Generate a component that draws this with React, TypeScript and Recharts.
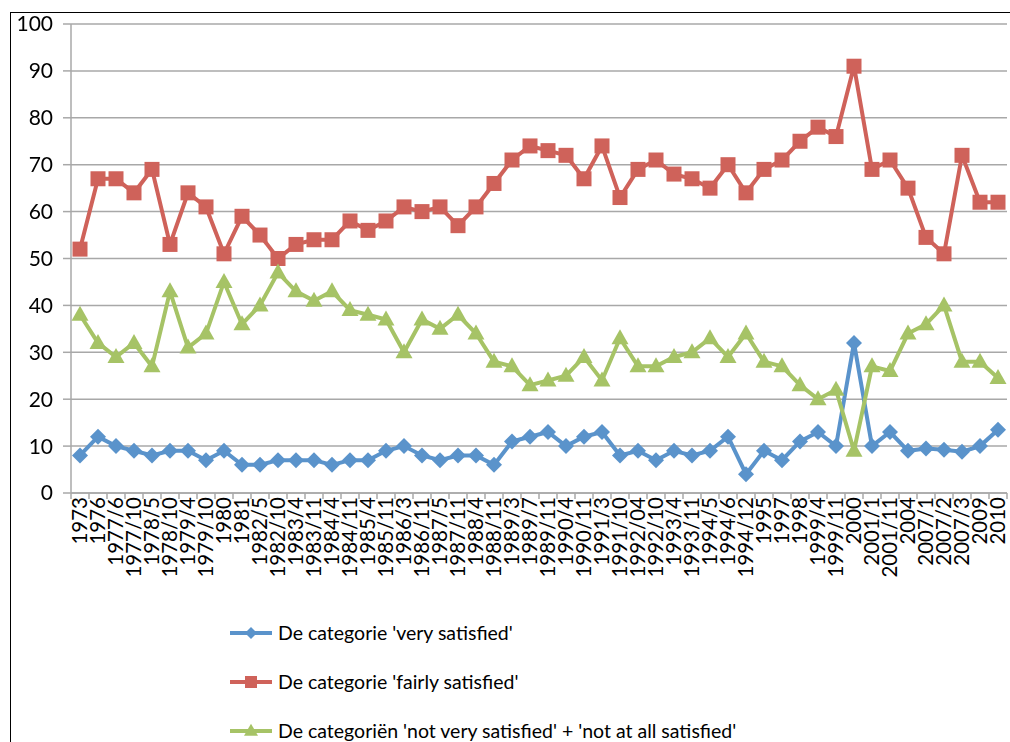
import React from 'react';
import { LineChart, Line, XAxis, YAxis, CartesianGrid } from 'recharts';

const categories = [
  '1973', '1976', '1977/6', '1977/10', '1978/5', '1978/10', '1979/4', '1979/10', '1980', '1981',
  '1982/5', '1982/10', '1983/4', '1983/11', '1984/4', '1984/11', '1985/4', '1985/11', '1986/3', '1986/11',
  '1987/5', '1987/11', '1988/4', '1988/11', '1989/3', '1989/7', '1989/11', '1990/4', '1990/11', '1991/3',
  '1991/10', '1992/04', '1992/10', '1993/4', '1993/11', '1994/5', '1994/6', '1994/12', '1995', '1997',
  '1998', '1999/4', '1999/11', '2000', '2001/1', '2001/11', '2004', '2007/1', '2007/2', '2007/3',
  '2009', '2010',
];

const verySatisfied = [
  8, 12, 10, 9, 8, 9, 9, 7, 9, 6,
  6, 7, 7, 7, 6, 7, 7, 9, 10, 8,
  7, 8, 8, 6, 11, 12, 13, 10, 12, 13,
  8, 9, 7, 9, 8, 9, 12, 4, 9, 7,
  11, 13, 10, 32, 10, 13, 9, 9.5, 9.2, 8.8,
  10, 13.5,
];

const fairlySatisfied = [
  52, 67, 67, 64, 69, 53, 64, 61, 51, 59,
  55, 50, 53, 54, 54, 58, 56, 58, 61, 60,
  61, 57, 61, 66, 71, 74, 73, 72, 67, 74,
  63, 69, 71, 68, 67, 65, 70, 64, 69, 71,
  75, 78, 76, 91, 69, 71, 65, 54.5, 51, 72,
  62, 62,
];

const notSatisfied = [
  38, 32, 29, 32, 27, 43, 31, 34, 45, 36,
  40, 47, 43, 41, 43, 39, 38, 37, 30, 37,
  35, 38, 34, 28, 27, 23, 24, 25, 29, 24,
  33, 27, 27, 29, 30, 33, 29, 34, 28, 27,
  23, 20, 22, 9, 27, 26, 34, 36, 40, 28,
  28, 24.5,
];

const yTicks = [0, 10, 20, 30, 40, 50, 60, 70, 80, 90, 100];

const seriesNames = [
  "De categorie 'very satisfied'",
  "De categorie 'fairly satisfied'",
  "De categoriën 'not very satisfied' + 'not at all satisfied'",
];

const BLUE = '#5a93cb';
const RED = '#cf625a';
const GREEN = '#a6c366';
const GRID = '#a8a8a8';
const FONT = 'Lato, sans-serif';

const data = categories.map((c, i) => ({
  cat: c,
  very: verySatisfied[i],
  fairly: fairlySatisfied[i],
  not: notSatisfied[i],
}));

const HALF_BAND = 9;

const Diamond = ({ cx, cy, fill, r = 8 }: any) => (
  <path d={`M${cx},${cy - r} L${cx + r},${cy} L${cx},${cy + r} L${cx - r},${cy} Z`} fill={fill} />
);
const Square = ({ cx, cy, fill, s = 15 }: any) => (
  <rect x={cx - s / 2} y={cy - s / 2} width={s} height={s} fill={fill} />
);
const Triangle = ({ cx, cy, fill, w = 17, h = 15 }: any) => (
  <path d={`M${cx},${cy - h * 0.6} L${cx + w / 2},${cy + h * 0.4} L${cx - w / 2},${cy + h * 0.4} Z`} fill={fill} />
);

// Excel-style x ticks: marks between categories, labels rotated upright
const XTick = (props: any) => {
  const { x, y, payload, index } = props;
  return (
    <g>
      <line x1={x - HALF_BAND} y1={y} x2={x - HALF_BAND} y2={y + 6} stroke={GRID} strokeWidth={1.5} />
      {index === categories.length - 1 && (
        <line x1={x + HALF_BAND} y1={y} x2={x + HALF_BAND} y2={y + 6} stroke={GRID} strokeWidth={1.5} />
      )}
      <text
        x={x}
        y={y + 4}
        transform={`rotate(-90, ${x}, ${y + 4})`}
        textAnchor="end"
        dy="0.36em"
        fontSize={20.5}
        fontFamily={FONT}
        fill="#000"
      >
        {payload.value}
      </text>
    </g>
  );
};

const LegendRow = ({ color, name, marker }: any) => (
  <div style={{ display: 'flex', alignItems: 'center', height: 49 }}>
    <svg width={42} height={20} style={{ marginRight: 6 }}>
      <line x1={0} y1={10} x2={42} y2={10} stroke={color} strokeWidth={4} />
      {marker === 'diamond' && <Diamond cx={21} cy={10} fill={color} r={6} />}
      {marker === 'square' && <Square cx={21} cy={10} fill={color} s={12} />}
      {marker === 'triangle' && <Triangle cx={21} cy={10} fill={color} w={14} h={12} />}
    </svg>
    <span style={{ fontFamily: FONT, fontSize: 19.5, color: '#000' }}>{name}</span>
  </div>
);

export default function App() {
  return (
    <div
      style={{
        position: 'fixed',
        left: 10,
        top: 12,
        width: 1000,
        height: 800,
        boxSizing: 'border-box',
        borderTop: '1px solid #000',
        borderLeft: '1px solid #000',
        background: '#fff',
      }}
    >
      <div style={{ marginTop: -10 }}>
        <LineChart width={998} height={600} data={data} margin={{ top: 21, right: 2, left: 0, bottom: 0 }}>
          <CartesianGrid vertical={false} stroke={GRID} strokeWidth={1.5} />
          <XAxis
            dataKey="cat"
            interval={0}
            height={110}
            padding={{ left: HALF_BAND, right: HALF_BAND }}
            axisLine={{ stroke: GRID, strokeWidth: 1.5 }}
            tickLine={false}
            tickSize={0}
            tickMargin={0}
            tick={<XTick />}
          />
          <YAxis
            width={60}
            domain={[0, 100]}
            ticks={yTicks}
            interval={0}
            axisLine={{ stroke: GRID, strokeWidth: 1.5 }}
            tickLine={{ stroke: GRID, strokeWidth: 1.5 }}
            tickSize={8}
            tickMargin={10}
            tick={{ fill: '#000', fontSize: 21, fontFamily: FONT }}
          />
          <Line
            dataKey="very"
            name={seriesNames[0]}
            stroke={BLUE}
            strokeWidth={4}
            dot={(p: any) => <Diamond key={`d${p.index}`} cx={p.cx} cy={p.cy} fill={BLUE} />}
            isAnimationActive={false}
          />
          <Line
            dataKey="fairly"
            name={seriesNames[1]}
            stroke={RED}
            strokeWidth={4}
            dot={(p: any) => <Square key={`s${p.index}`} cx={p.cx} cy={p.cy} fill={RED} />}
            isAnimationActive={false}
          />
          <Line
            dataKey="not"
            name={seriesNames[2]}
            stroke={GREEN}
            strokeWidth={4}
            dot={(p: any) => <Triangle key={`t${p.index}`} cx={p.cx} cy={p.cy} fill={GREEN} />}
            isAnimationActive={false}
          />
        </LineChart>
      </div>
      <div style={{ paddingLeft: 219, paddingTop: 5 }}>
        <LegendRow color={BLUE} name={seriesNames[0]} marker="diamond" />
        <LegendRow color={RED} name={seriesNames[1]} marker="square" />
        <LegendRow color={GREEN} name={seriesNames[2]} marker="triangle" />
      </div>
    </div>
  );
}
